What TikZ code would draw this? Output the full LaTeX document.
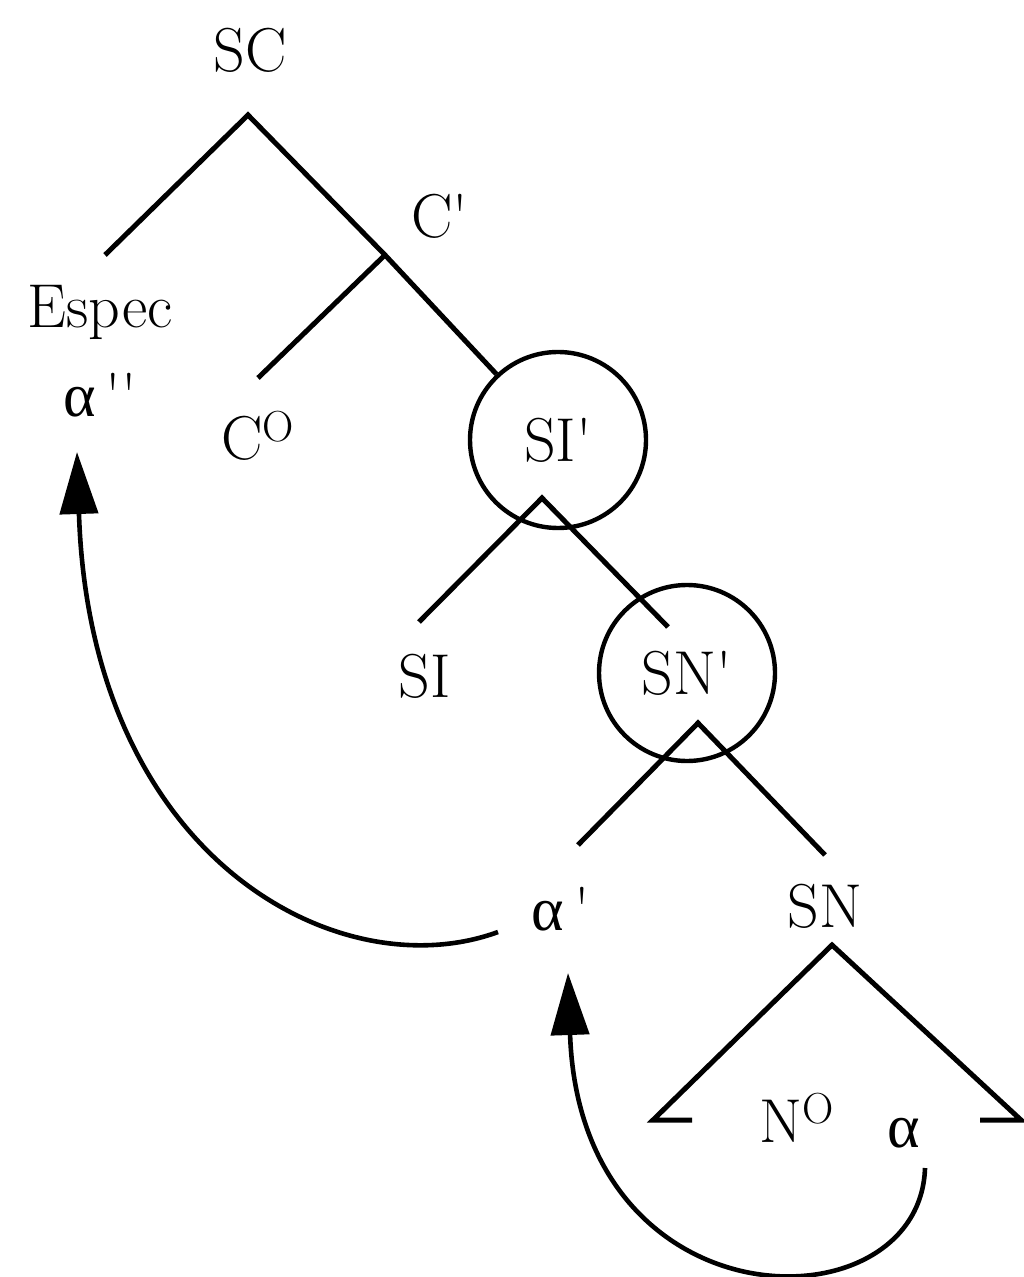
\documentclass[tikz,border=0pt]{standalone}
\usepackage{fontspec}
\usepackage{tikz}
\usetikzlibrary{arrows.meta}
\newfontfamily\greekfont{Liberation Serif}
\newcommand{\alf}{{\greekfont α}}
\definecolor{treeink}{HTML}{000000}

\begin{document}
\begin{tikzpicture}[x=0.5pt, y=-0.5pt,
  lbl/.style={anchor=base, inner sep=0pt, text=treeink, font=\fontsize{31}{36}\selectfont},
  ring/.style={circle, draw=treeink, line width=2.2pt, minimum size=88pt, inner sep=0pt, font=\fontsize{31}{36}\selectfont},
  bar/.style={draw=treeink, line width=2.5pt},
  move/.style={draw=treeink, line width=2.3pt, -{Triangle[length=31pt, width=19pt]}}]
  \useasboundingbox (0,0) rectangle (1023,1277);

  % labels
  \node[lbl] (sc) at (250,72) {SC};
  \node[lbl] (cbar) at (440,238) {C\textquotesingle};
  \node[lbl] (espec) at (100,328) {Espec};
  \node[lbl] (alphab) at (100,417) {\alf\,\textquotesingle\textquotesingle};
  \node[lbl] (czero) at (258,460) {C\textsuperscript{O}};
  \node[ring] (ibar) at (558,440) {SI\textquotesingle};
  \node[lbl] (si) at (425,697) {SI};
  \node[ring] (nbar) at (687,673) {SN\textquotesingle};
  \node[lbl] (alphaa) at (561,930) {\alf\,\textquotesingle};
  \node[lbl] (sn) at (825,927) {SN};
  \node[lbl] (nzero) at (797,1142) {N\textsuperscript{O}};
  \node[lbl] (alpha) at (904,1147) {\alf};

  % branch points
  \coordinate (sctop) at (248,115);
  \coordinate (especend) at (105,255);
  \coordinate (cjoin) at (385,255);
  \coordinate (czeroend) at (258,378);
  \coordinate (ipeak) at (542,498);
  \coordinate (siend) at (419,622);
  \coordinate (nbarend) at (668,627);
  \coordinate (npeak) at (698,723);
  \coordinate (alphaaend) at (578,845);
  \coordinate (snend) at (825,855);
  \coordinate (sntop) at (832,945);
  \coordinate (snleft) at (653,1120);
  \coordinate (snlefttick) at (692,1120);
  \coordinate (snright) at (1021,1120);
  \coordinate (snrighttick) at (980,1120);

  \draw[bar] (especend) -- (sctop) -- (cjoin) -- (ibar);
  \draw[bar] (cjoin) -- (czeroend);
  \draw[bar] (siend) -- (ipeak) -- (nbarend);
  \draw[bar] (alphaaend) -- (npeak) -- (snend);
  \draw[bar] (snlefttick) -- (snleft) -- (sntop) -- (snright) -- (snrighttick);

  % movement arrows
  \coordinate (fromalphaa) at (498,932);
  \coordinate (toalphab) at (77,452);
  \coordinate (fromalpha) at (925,1168);
  \coordinate (toalphaa) at (568,973);
  \draw[move] (fromalphaa) .. controls (340,990) and (90,860) .. (toalphab);
  \draw[move] (fromalpha) .. controls (920,1330) and (580,1330) .. (toalphaa);
\end{tikzpicture}
\end{document}
